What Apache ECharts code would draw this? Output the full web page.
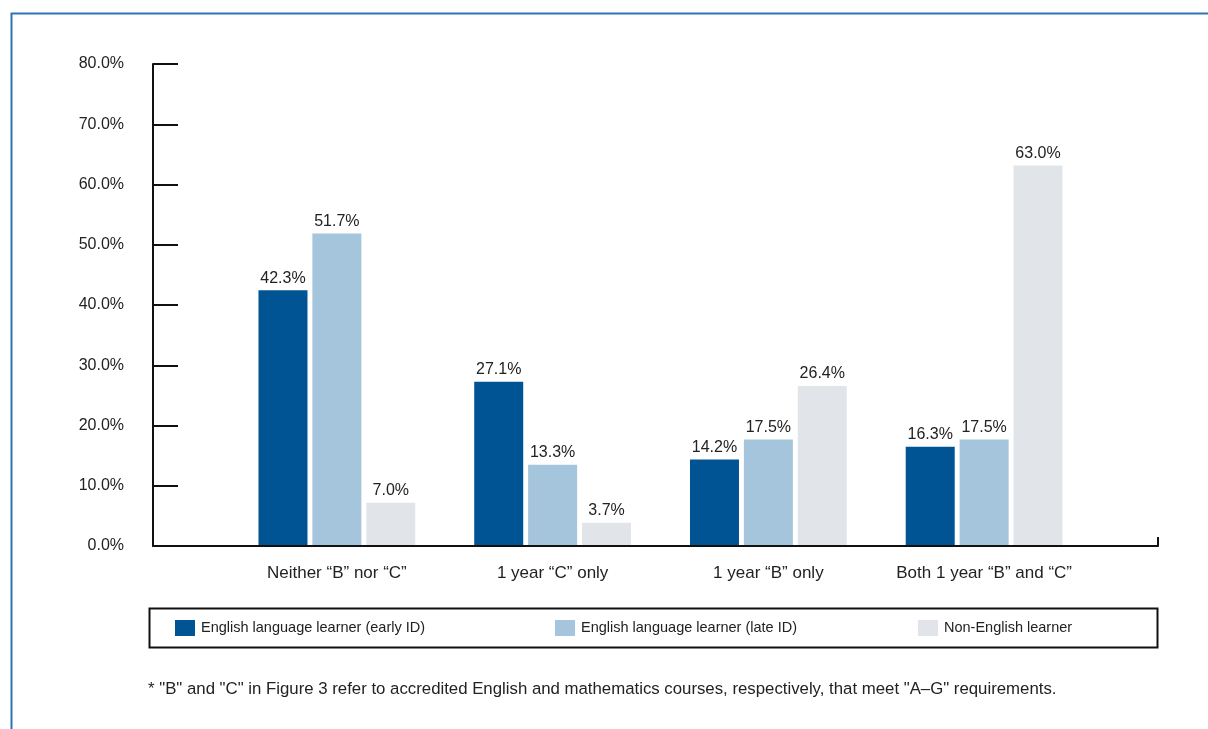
<!DOCTYPE html>
<html><head><meta charset="utf-8">
<script src="https://cdn.jsdelivr.net/npm/echarts@6/dist/echarts.min.js"></script>
<style>html,body{margin:0;padding:0;background:#fff}#c{width:1208px;height:729px}</style>
</head><body><div id="c"></div>
<script>
const categories = ['Neither \u201cB\u201d nor \u201cC\u201d', '1 year \u201cC\u201d only', '1 year \u201cB\u201d only', 'Both 1 year \u201cB\u201d and \u201cC\u201d'];
const seriesNames = ['English language learner (early ID)', 'English language learner (late ID)', 'Non-English learner'];
const earlyID = [42.3, 27.1, 14.2, 16.3];
const lateID = [51.7, 13.3, 17.5, 17.5];
const nonELL = [7.0, 3.7, 26.4, 63.0];
const yTicks = [0, 10, 20, 30, 40, 50, 60, 70, 80];
const footnote = '* "B" and "C" in Figure 3 refer to accredited English and mathematics courses, respectively, that meet "A\u2013G" requirements.';

const colors = ['#005493', '#a4c5dc', '#e1e5e9'];
const FONT = "'Liberation Sans', Arial, sans-serif";
const chart = echarts.init(document.getElementById('c'), null, {renderer: 'canvas'});
const mk = (name, data, i) => ({
  name, type: 'bar', data, xAxisIndex: 1, yAxisIndex: 1,
  barWidth: 49, barGap: '10%',
  itemStyle: {color: colors[i]},
  label: {show: true, position: 'top', distance: 4, formatter: p => p.value.toFixed(1) + '%',
    color: '#222', fontSize: 16, fontFamily: FONT},
  animation: false
});
const legendItem = (i, left) => ({
  data: [seriesNames[i]], left, top: 620, itemWidth: 20, itemHeight: 16, itemGap: 0,
  padding: 0, selectedMode: false, icon: 'rect',
  textStyle: {fontFamily: FONT, fontSize: 14.5, color: '#222', padding: [0, 0, 0, 1]}
});
chart.setOption({
  animation: false,
  grid: [
    {left: 153, right: 50, top: 64, bottom: 183},
    {left: 229, right: 116, top: 63, bottom: 184}
  ],
  xAxis: [
    {gridIndex: 0, type: 'value', min: 0, max: 1, interval: 1,
      axisLine: {show: true, lineStyle: {color: '#111', width: 2}},
      axisTick: {show: true, inside: true, length: 9, lineStyle: {color: '#111', width: 2}},
      axisLabel: {show: false}, splitLine: {show: false}},
    {gridIndex: 1, type: 'category', data: categories,
      axisLine: {show: false}, axisTick: {show: false},
      axisLabel: {interval: 0, hideOverlap: false, color: '#222', fontSize: 17, fontFamily: FONT, margin: 20}}
  ],
  yAxis: [
    {gridIndex: 0, type: 'value', min: yTicks[0], max: yTicks[yTicks.length - 1], interval: 10,
      axisLine: {show: true, lineStyle: {color: '#111', width: 2}},
      axisTick: {show: true, inside: true, length: 25, lineStyle: {color: '#111', width: 2}},
      axisLabel: {formatter: v => v.toFixed(1) + '%', color: '#222', fontSize: 16,
        fontFamily: FONT, margin: 29},
      splitLine: {show: false}},
    {gridIndex: 1, type: 'value', min: yTicks[0], max: yTicks[yTicks.length - 1], show: false}
  ],
  legend: [legendItem(0, 175), legendItem(1, 555), legendItem(2, 918)],
  graphic: [
    {type: 'rect', left: 9, top: 11, shape: {width: 1300, height: 800},
      style: {fill: 'none', stroke: '#2e75b6', lineWidth: 2}, silent: true},
    {type: 'rect', left: 147, top: 606, shape: {width: 1008, height: 39},
      style: {fill: 'none', stroke: '#111', lineWidth: 2}, silent: true},
    {type: 'text', left: 148, top: 681, style: {text: footnote, fill: '#222', fontSize: 16.8, fontFamily: FONT}}
  ],
  series: [mk(seriesNames[0], earlyID, 0), mk(seriesNames[1], lateID, 1), mk(seriesNames[2], nonELL, 2)]
});
</script></body></html>
